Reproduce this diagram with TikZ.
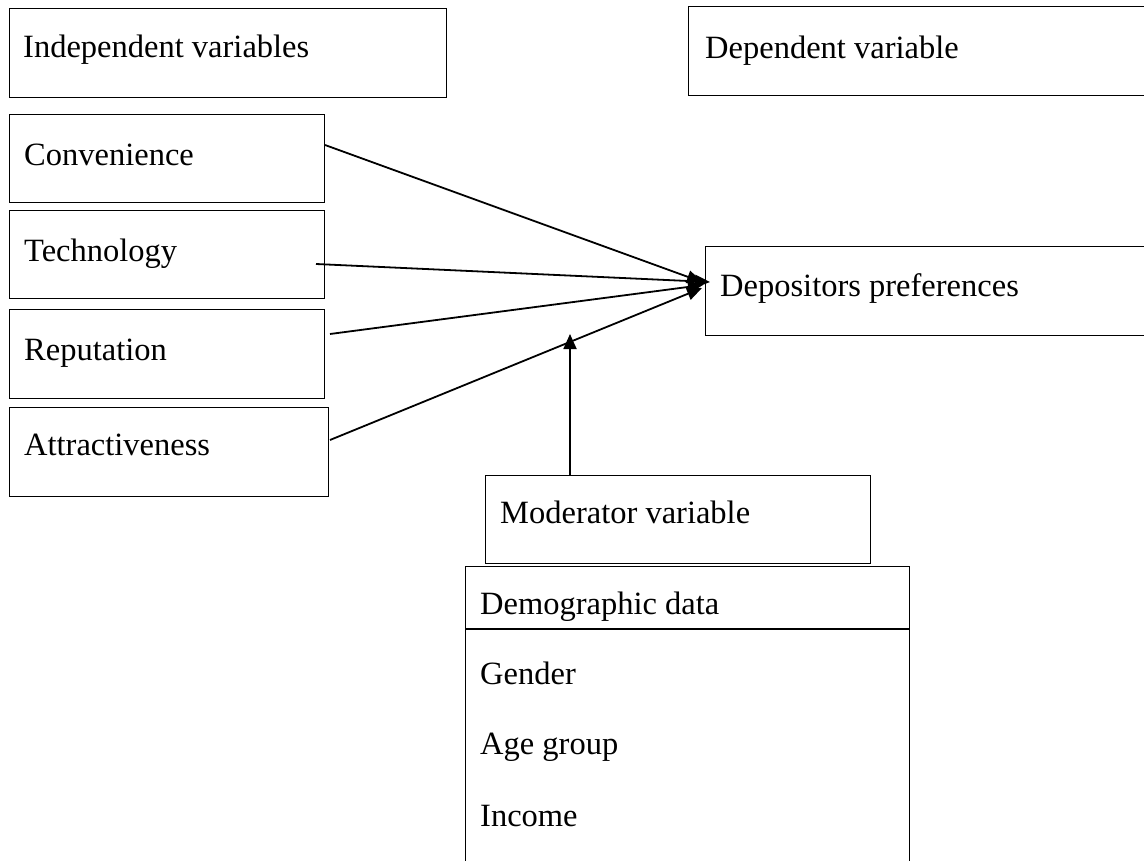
\documentclass[tikz,border=0pt]{standalone}
\usepackage{fontspec}
\setmainfont{Liberation Serif}
\usetikzlibrary{arrows.meta}
\tikzset{
 box/.style={draw, line width=1pt, inner sep=0pt, outer sep=0pt, anchor=north west},
 lbl/.style={anchor=base west, inner sep=0pt, font=\fontsize{32.5}{38}\selectfont},
 conn/.style={line width=1.8pt, -{Triangle[length=15pt,width=13pt]}},
}
\begin{document}
\begin{tikzpicture}[x=1pt,y=-1pt]
\useasboundingbox (0,0) rectangle (1144,861);
\clip (0,0) rectangle (1144,861);
% boxes
\node[box, minimum width=437pt, minimum height=89pt] (indep) at (9,9) {};
\node[box, minimum width=500pt, minimum height=89pt] (dep) at (688,7) {};
\node[box, minimum width=315pt, minimum height=88pt] (conv) at (9,115) {};
\node[box, minimum width=315pt, minimum height=88pt] (tech) at (9,211) {};
\node[box, minimum width=315pt, minimum height=88pt] (rep) at (9,310) {};
\node[box, minimum width=319pt, minimum height=89pt] (attr) at (9,407) {};
\node[box, minimum width=500pt, minimum height=88pt] (depos) at (705,247) {};
\node[box, minimum width=385pt, minimum height=88pt] (mod) at (485,475) {};
\node[box, minimum width=444pt, minimum height=400pt] (demo) at (465,566) {};
\draw[line width=1.5pt] (465,629) -- (909,629);
% labels
\node[lbl] (tindep) at (23,58) {Independent variables};
\node[lbl] (tdep) at (705,59) {Dependent variable};
\node[lbl] (tconv) at (24,166) {Convenience};
\node[lbl] (ttech) at (24,262) {Technology};
\node[lbl] (trep) at (24,360) {Reputation};
\node[lbl] (tattr) at (24,455) {Attractiveness};
\node[lbl] (tdepos) at (720,297) {Depositors preferences};
\node[lbl] (tmod) at (500,523) {Moderator variable};
\node[lbl] (tdemo) at (480,614) {Demographic data};
\node[lbl] (tgen) at (480,684) {Gender};
\node[lbl] (tage) at (480,754) {Age group};
\node[lbl] (tinc) at (480,826) {Income};
% connector end points
\coordinate (s1) at (325,145);
\coordinate (s2) at (316,264);
\coordinate (s3) at (330,334);
\coordinate (s4) at (330,440);
\coordinate (e1) at (702,282);
\coordinate (e2) at (710,282);
\coordinate (e3) at (703,285);
\coordinate (e4) at (702,288);
\coordinate (m0) at (570,475);
\coordinate (m1) at (570,334);
\draw[conn] (s1) -- (e1);
\draw[conn] (s2) -- (e2);
\draw[conn] (s3) -- (e3);
\draw[conn] (s4) -- (e4);
\draw[conn] (m0) -- (m1);
\end{tikzpicture}
\end{document}
